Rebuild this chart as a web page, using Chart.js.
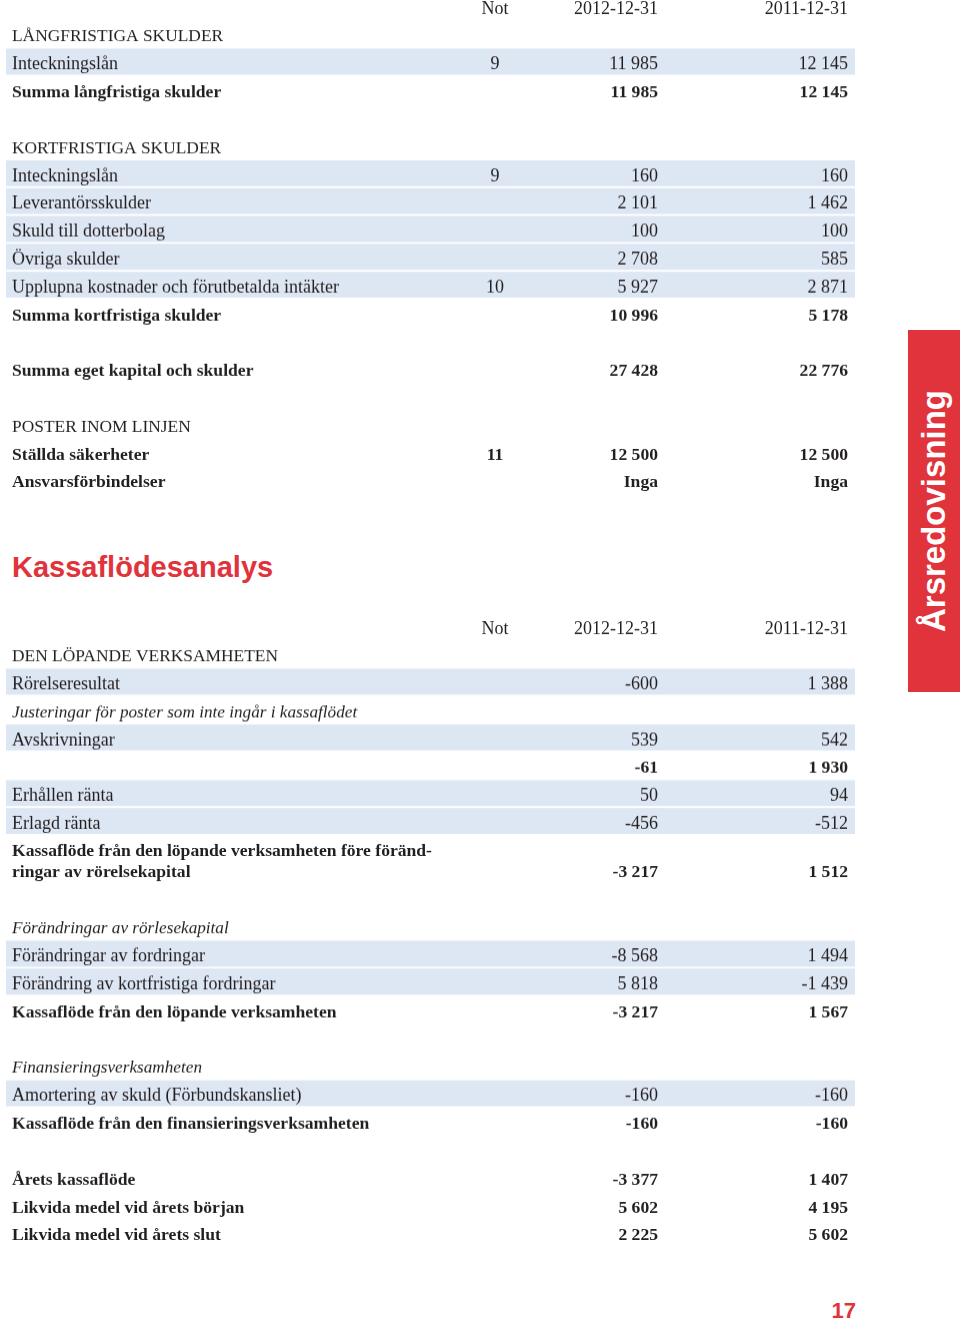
<!DOCTYPE html>
<html>
<head>
<meta charset="utf-8">
<script src="https://cdn.jsdelivr.net/npm/chart.js@4.4.0/dist/chart.umd.min.js"></script>
<style>
  body { margin: 0; width: 960px; height: 1324px; position: relative; overflow: hidden; background: #fff; }
  .blk { position: absolute; left: 0; width: 860px; }
  #title { position: absolute; left: 12px; top: 549px; margin: 0; font: bold 29px "Liberation Sans", Arial, sans-serif; color: #e0333b; line-height: 36px; }
  #tab { position: absolute; left: 908px; top: 330px; width: 52px; height: 362px; background: #e0333b; }
  #tab span { position: absolute; left: 50%; top: 50%; transform: translate(-50%, -50%) rotate(-90deg);
    font: bold 33px "Liberation Sans", Arial, sans-serif; color: #fff; white-space: nowrap; }
  #page { position: absolute; right: 104px; top: 1298px; font: bold 22px "Liberation Sans", Arial, sans-serif; color: #e0333b; }
</style>
</head>
<body>
<div class="blk" style="top:-8.1px;height:500.8px"><canvas id="tblA"></canvas></div>
<h1 id="title">Kassaflödesanalys</h1>
<div class="blk" style="top:611.9px;height:249.8px"><canvas id="tblB"></canvas></div>
<div class="blk" style="top:855.9px;height:389.8px"><canvas id="tblC"></canvas></div>
<div id="tab"><span>Årsredovisning</span></div>
<div id="page">17</div>

<script>
// column headings
const colHeads = ['Not', '2012-12-31', '2011-12-31'];

// balance sheet, continued
const rowsA = ['', 'LÅNGFRISTIGA SKULDER', 'Inteckningslån', 'Summa långfristiga skulder', '',
  'KORTFRISTIGA SKULDER', 'Inteckningslån', 'Leverantörsskulder', 'Skuld till dotterbolag', 'Övriga skulder',
  'Upplupna kostnader och förutbetalda intäkter', 'Summa kortfristiga skulder', '',
  'Summa eget kapital och skulder', '', 'POSTER INOM LINJEN', 'Ställda säkerheter', 'Ansvarsförbindelser'];
const kindsA = ['cols', 'head', 'item', 'sum', 'blank', 'head', 'item', 'item', 'item', 'item',
  'item', 'sum', 'blank', 'sum', 'blank', 'head', 'sum', 'sum'];
const notesA = [null, null, '9', null, null, null, '9', null, null, null, '10', null, null, null, null, null, '11', null];
const y2012A = [null, null, 11985, 11985, null, null, 160, 2101, 100, 2708, 5927, 10996, null, 27428, null, null, 12500, 'Inga'];
const y2011A = [null, null, 12145, 12145, null, null, 160, 1462, 100, 585, 2871, 5178, null, 22776, null, null, 12500, 'Inga'];

// cash flow, operating part
const rowsB = ['', 'DEN LÖPANDE VERKSAMHETEN', 'Rörelseresultat', 'Justeringar för poster som inte ingår i kassaflödet',
  'Avskrivningar', '', 'Erhållen ränta', 'Erlagd ränta', 'Kassaflöde från den löpande verksamheten före föränd-'];
const kindsB = ['cols', 'head', 'item', 'sub', 'item', 'sum', 'item', 'item', 'sum'];
const notesB = [null, null, null, null, null, null, null, null, null];
const y2012B = [null, null, -600, null, 539, -61, 50, -456, null];
const y2011B = [null, null, 1388, null, 542, 1930, 94, -512, null];

// cash flow, rest
const rowsC = ['ringar av rörelsekapital', '', 'Förändringar av rörlesekapital', 'Förändringar av fordringar',
  'Förändring av kortfristiga fordringar', 'Kassaflöde från den löpande verksamheten', '',
  'Finansieringsverksamheten', 'Amortering av skuld (Förbundskansliet)', 'Kassaflöde från den finansieringsverksamheten', '',
  'Årets kassaflöde', 'Likvida medel vid årets början', 'Likvida medel vid årets slut'];
const kindsC = ['sum', 'blank', 'sub', 'item', 'item', 'sum', 'blank', 'sub', 'item', 'sum', 'blank', 'sum', 'sum', 'sum'];
const notesC = [null, null, null, null, null, null, null, null, null, null, null, null, null, null];
const y2012C = [-3217, null, null, -8568, 5818, -3217, null, null, -160, -160, null, -3377, 5602, 2225];
const y2011C = [1512, null, null, 1494, -1439, 1567, null, null, -160, -160, null, 1407, 4195, 5602];

const INK = '#231f20';
const BAND = '#dde6f3';
const SERIF = '"Liberation Serif", "Times New Roman", serif';
const TEXT_DROP = 3; // text sits a little below the band centre

function fmt(v) {
  if (v === null || v === undefined) return '';
  if (typeof v === 'string') return v;
  const s = String(Math.abs(v)).replace(/\B(?=(\d{3})+(?!\d))/g, ' ');
  return (v < 0 ? '-' : '') + s;
}

function rowFont(kind) {
  let size = 18;
  if (kind === 'sum') size = 17.6;
  if (kind === 'sub') size = 17.2;
  if (kind === 'head') size = 17.4;
  return {
    family: SERIF,
    size,
    weight: kind === 'sum' ? 'bold' : 'normal',
    style: kind === 'sub' ? 'italic' : 'normal'
  };
}

// writes Not / year columns next to each row
const tableText = {
  id: 'tableText',
  afterDatasetsDraw(chart, args, opts) {
    const ctx = chart.ctx;
    const y = chart.scales.y;
    ctx.save();
    ctx.fillStyle = INK;
    ctx.textBaseline = 'middle';
    opts.kinds.forEach((k, i) => {
      const py = y.getPixelForValue(i) + TEXT_DROP;
      const f = rowFont(k === 'cols' ? 'item' : k);
      ctx.font = `${f.style} ${f.weight} ${f.size}px ${f.family}`;
      let cells = [opts.notes[i] || '', fmt(opts.y2012[i]), fmt(opts.y2011[i])];
      if (k === 'cols') cells = colHeads;
      ctx.textAlign = 'center';
      ctx.fillText(cells[0], 495, py);
      ctx.textAlign = 'right';
      ctx.fillText(cells[1], 658, py);
      ctx.fillText(cells[2], 848, py);
    });
    ctx.restore();
  }
};

function makeTable(id, rows, kinds, notes, y2012, y2011) {
  return new Chart(document.getElementById(id), {
    type: 'bar',
    data: {
      labels: rows,
      datasets: [{
        data: kinds.map(k => (k === 'item' ? 1 : null)),
        backgroundColor: BAND,
        borderWidth: 0,
        barPercentage: 0.93,
        categoryPercentage: 1
      }]
    },
    options: {
      indexAxis: 'y',
      responsive: true,
      maintainAspectRatio: false,
      animation: false,
      events: [],
      layout: { autoPadding: false, padding: { left: 0, right: 5, top: 0, bottom: 0 } },
      scales: {
        x: { display: false, min: 0, max: 1 },
        y: {
          grid: { display: false },
          border: { display: false },
          // rows fill the whole block, labels sit inside it
          afterFit: s => { s.width = 6; s.paddingTop = 0; s.paddingBottom = 0; },
          ticks: {
            autoSkip: false,
            mirror: true,
            padding: 6,
            labelOffset: TEXT_DROP,
            z: 1,
            color: INK,
            font: c => rowFont(kinds[c.index])
          }
        }
      },
      plugins: {
        legend: { display: false },
        tooltip: { enabled: false },
        tableText: { kinds, notes, y2012, y2011 }
      }
    },
    plugins: [tableText]
  });
}

makeTable('tblA', rowsA, kindsA, notesA, y2012A, y2011A);
makeTable('tblB', rowsB, kindsB, notesB, y2012B, y2011B);
makeTable('tblC', rowsC, kindsC, notesC, y2012C, y2011C);
</script>
</body>
</html>
